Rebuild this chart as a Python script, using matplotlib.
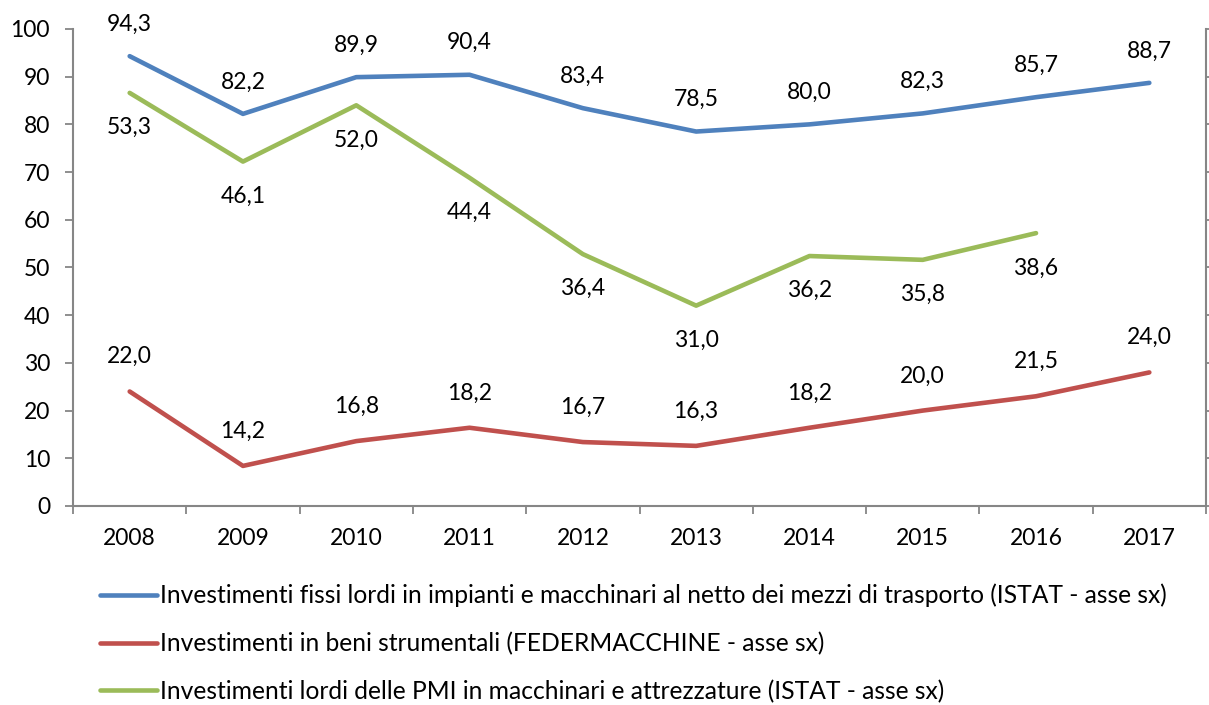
import matplotlib.pyplot as plt
import numpy as np

plt.rcParams['font.family'] = ['Lato', 'DejaVu Sans']

anni = ['2008', '2009', '2010', '2011', '2012', '2013', '2014', '2015', '2016', '2017']
# asse sinistro
istat_impianti = [94.3, 82.2, 89.9, 90.4, 83.4, 78.5, 80.0, 82.3, 85.7, 88.7]
# asse secondario (10-60)
federmacchine = [22.0, 14.2, 16.8, 18.2, 16.7, 16.3, 18.2, 20.0, 21.5, 24.0]
istat_pmi = [53.3, 46.1, 52.0, 44.4, 36.4, 31.0, 36.2, 35.8, 38.6, np.nan]

nomi = [
    "Investimenti fissi lordi in impianti e macchinari al netto dei mezzi di trasporto (ISTAT - asse sx)",
    "Investimenti in beni strumentali (FEDERMACCHINE - asse sx)",
    "Investimenti lordi delle PMI in macchinari e attrezzature (ISTAT - asse sx)",
]
colori = ['#4F81BD', '#C0504D', '#9BBB59']
grigio = '#868686'
fs_num = 16.5
fs_leg = 17.7

fig = plt.figure(figsize=(12.09, 7.05), dpi=100)
ax = fig.add_axes([0.0604, 0.2823, 0.9371, 0.6766])
ax2 = ax.twinx()

x = np.arange(len(anni))
lw = 3.3
l1, = ax.plot(x, istat_impianti, color=colori[0], lw=lw, solid_capstyle='round', solid_joinstyle='round')
l2, = ax2.plot(x, federmacchine, color=colori[1], lw=lw, solid_capstyle='round', solid_joinstyle='round')
l3, = ax2.plot(x, istat_pmi, color=colori[2], lw=lw, solid_capstyle='round', solid_joinstyle='round')

def fmt(v):
    return f"{v:.1f}".replace('.', ',')

def etichette(asse, valori, dy):
    for xi, v in zip(x, valori):
        if np.isnan(v):
            continue
        asse.annotate(fmt(v), (xi, v), xytext=(0, dy), textcoords='offset points',
                      ha='center', va='center', fontsize=fs_num, color='black')

etichette(ax, istat_impianti, 23)
etichette(ax2, federmacchine, 25)
etichette(ax2, istat_pmi, -25)

ax.set_xlim(-0.5, len(anni) - 0.5)
ax.set_ylim(0, 100)
ax.set_yticks(range(0, 101, 10))
ax2.set_ylim(10, 60)
ax2.set_yticks(range(10, 61, 5))
ax2.set_yticklabels([])

ax.set_xticks(x)
ax.set_xticklabels(anni)
ax.set_xticks(np.arange(-0.5, len(anni)), minor=True)
ax.tick_params(axis='x', which='major', length=0, pad=16, labelsize=fs_num)
ax.tick_params(axis='x', which='minor', length=5.5, width=1.3, color=grigio)
ax.tick_params(axis='y', length=5.5, width=1.3, color=grigio, pad=11, labelsize=fs_num)
ax2.tick_params(axis='y', length=2.5, width=1.3, color=grigio)

for a in (ax, ax2):
    a.spines['top'].set_visible(False)
    for s in ('left', 'right', 'bottom'):
        a.spines[s].set_color(grigio)
        a.spines[s].set_linewidth(1.5)
ax.spines['right'].set_visible(False)
ax2.spines['left'].set_visible(False)
ax2.spines['bottom'].set_visible(False)

fig.legend([l1, l2, l3], nomi, loc='upper left', bbox_to_anchor=(0.0827, 0.172),
           frameon=False, fontsize=fs_leg, handlelength=2.3, handletextpad=0.15,
           labelspacing=1.0, borderaxespad=0, borderpad=0)

fig.savefig('out.png', dpi=100)
